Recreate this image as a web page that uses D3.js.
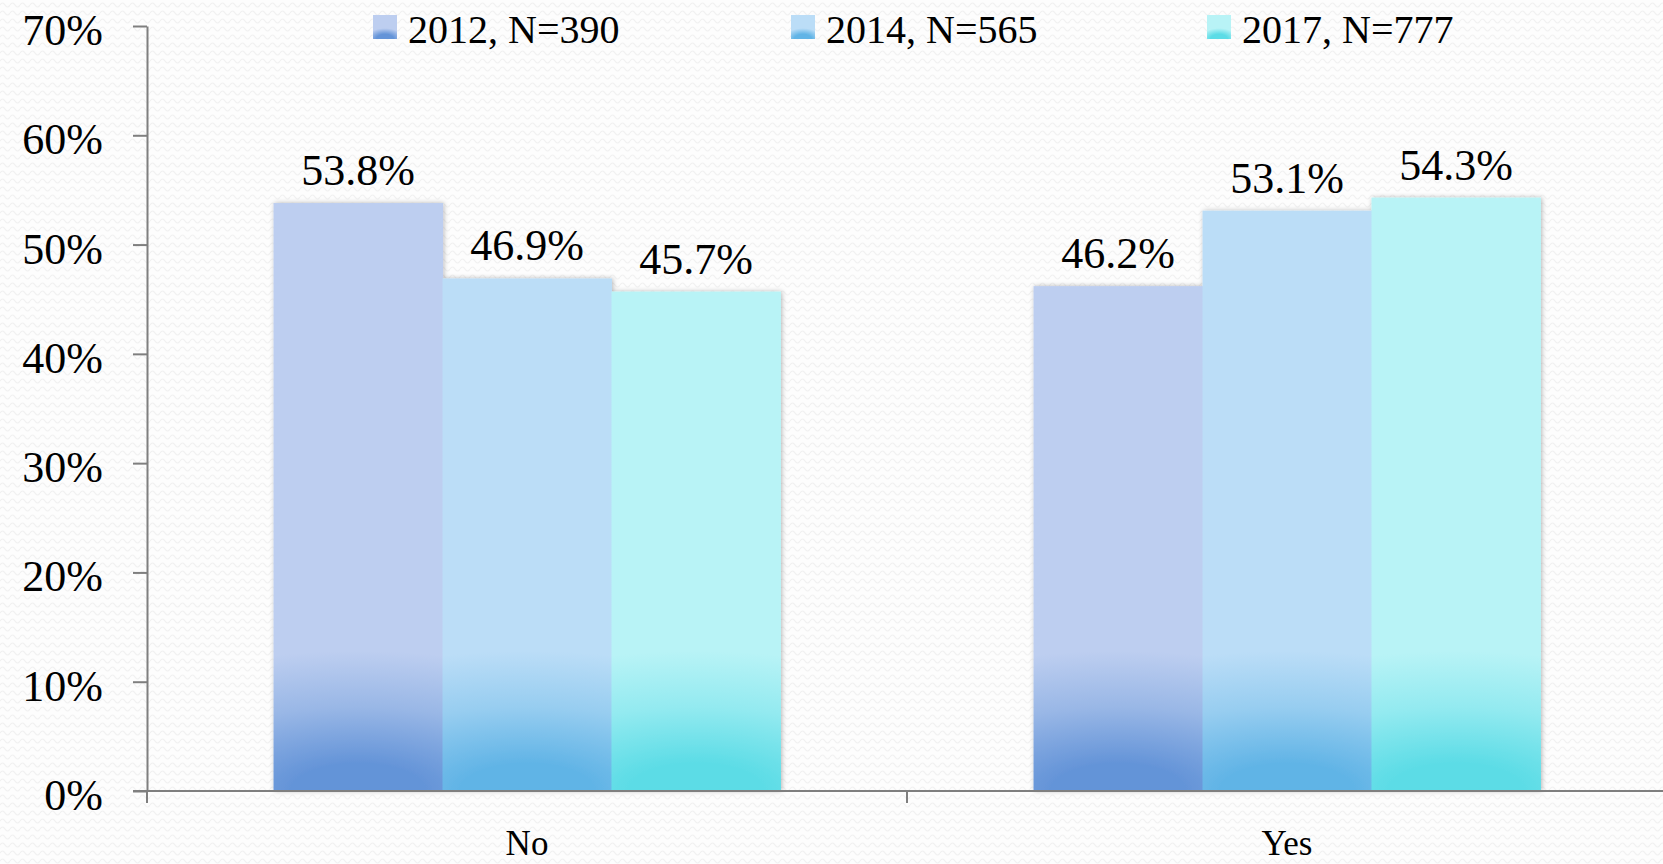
<!DOCTYPE html>
<html>
<head>
<meta charset="utf-8">
<script src="https://cdn.jsdelivr.net/npm/d3@7"></script>
<style>
  html, body { margin: 0; padding: 0; background: #fff; }
  svg { display: block; }
</style>
</head>
<body>
<div id="chart"></div>
<script>
// data
const categories = ['No', 'Yes'];
const seriesNames = ['2012, N=390', '2014, N=565', '2017, N=777'];
const values2012 = [53.8, 46.2];
const values2014 = [46.9, 53.1];
const values2017 = [45.7, 54.3];
const yTicks = [0, 10, 20, 30, 40, 50, 60, 70];

const seriesValues = [values2012, values2014, values2017];

// colours: flat top colour + darker glow at the bottom
const topColors = ['#bdcef0', '#bbddf7', '#b8f3f6'];
const bottomColors = ['#6494d8', '#61b4e6', '#5cdce6'];

const width = 1663;
const height = 864;
const font = '"Liberation Serif", "Times New Roman", serif';

const svg = d3.select('#chart').append('svg')
    .attr('width', width)
    .attr('height', height);

const defs = svg.append('defs');

// faint wavy background texture
const pat = defs.append('pattern')
    .attr('id', 'wave')
    .attr('width', 10)
    .attr('height', 8)
    .attr('patternUnits', 'userSpaceOnUse');
pat.append('rect').attr('width', 10).attr('height', 8).attr('fill', '#fdfdfd');
pat.append('path')
    .attr('d', 'M0 5 Q2.5 1 5 5 T10 5')
    .attr('fill', 'none')
    .attr('stroke', '#f1f1f1')
    .attr('stroke-width', 1.2);

svg.append('rect')
    .attr('width', width)
    .attr('height', height)
    .attr('fill', 'url(#wave)');

// soft shadow round the bar groups
const shadow = defs.append('filter')
    .attr('id', 'shadow')
    .attr('x', '-5%').attr('y', '-5%')
    .attr('width', '110%').attr('height', '110%');
shadow.append('feDropShadow')
    .attr('dx', 1).attr('dy', 0)
    .attr('stdDeviation', 2.5)
    .attr('flood-color', '#000')
    .attr('flood-opacity', 0.28);

// Scales
const x0 = d3.scaleBand()
    .domain(categories)
    .range([147, 1667])
    .padding(0);

const x1 = d3.scaleBand()
    .domain(seriesNames)
    .range([x0.bandwidth() * 0.1665, x0.bandwidth() * 0.8335])
    .padding(0);

const y = d3.scaleLinear()
    .domain([0, 70])
    .range([791, 26]);

// bar data
const bars = [];
categories.forEach((c, ci) => {
    seriesNames.forEach((s, si) => {
        bars.push({ cat: c, ci, series: s, si, value: seriesValues[si][ci] });
    });
});

// one radial gradient per bar, glow sits on the baseline
bars.forEach(d => {
    const h = y(0) - y(d.value);
    const g = defs.append('radialGradient')
        .attr('id', `grad-${d.si}-${d.ci}`)
        .attr('cx', 0.5).attr('cy', 1)
        .attr('fx', 0.5).attr('fy', 1)
        .attr('r', 0.5)
        .attr('gradientTransform', `translate(0.5,1) scale(4,${280 / h}) translate(-0.5,-1)`);
    g.append('stop').attr('offset', 0).attr('stop-color', bottomColors[d.si]);
    g.append('stop').attr('offset', 0.2).attr('stop-color', bottomColors[d.si]);
    g.append('stop').attr('offset', 0.6).attr('stop-color', d3.interpolateRgb(bottomColors[d.si], topColors[d.si])(0.6));
    g.append('stop').attr('offset', 1).attr('stop-color', topColors[d.si]);
});

const groups = svg.selectAll('g.cat')
    .data(categories)
    .join('g')
    .attr('class', 'cat')
    .attr('transform', d => `translate(${x0(d)},0)`)
    .attr('filter', 'url(#shadow)');

groups.selectAll('rect')
    .data(c => bars.filter(b => b.cat === c))
    .join('rect')
    .attr('x', d => x1(d.series))
    .attr('y', d => y(d.value))
    .attr('width', x1.bandwidth() + 0.5)
    .attr('height', d => y(0) - y(d.value))
    .attr('fill', d => `url(#grad-${d.si}-${d.ci})`);

// value labels
svg.append('g')
    .selectAll('text')
    .data(bars)
    .join('text')
    .attr('x', d => x0(d.cat) + x1(d.series) + x1.bandwidth() / 2)
    .attr('y', d => y(d.value) - 18)
    .attr('text-anchor', 'middle')
    .attr('font-family', font)
    .attr('font-size', 44)
    .attr('fill', '#000')
    .text(d => d.value.toFixed(1) + '%');

// Y axis
const yAxis = svg.append('g')
    .attr('transform', 'translate(147,0)')
    .call(d3.axisLeft(y)
        .tickValues(yTicks)
        .tickFormat(d => d + '%')
        .tickSize(14)
        .tickSizeOuter(0)
        .tickPadding(30));

yAxis.select('.domain').attr('stroke', '#7f7f7f').attr('stroke-width', 2);
yAxis.selectAll('.tick line').attr('stroke', '#7f7f7f').attr('stroke-width', 2);
yAxis.selectAll('.tick text')
    .attr('font-family', font)
    .attr('font-size', 44)
    .attr('fill', '#000')
    .attr('dy', '0.42em');

// X axis: line, boundary ticks, category names
const xAxis = svg.append('g');
xAxis.append('line')
    .attr('x1', x0.range()[0] - 14)
    .attr('x2', width)
    .attr('y1', y(0))
    .attr('y2', y(0))
    .attr('stroke', '#7f7f7f')
    .attr('stroke-width', 2);

xAxis.selectAll('line.tick')
    .data(categories)
    .join('line')
    .attr('class', 'tick')
    .attr('x1', d => x0(d))
    .attr('x2', d => x0(d))
    .attr('y1', y(0))
    .attr('y2', y(0) + 12)
    .attr('stroke', '#7f7f7f')
    .attr('stroke-width', 2);

xAxis.selectAll('text')
    .data(categories)
    .join('text')
    .attr('x', d => x0(d) + x0.bandwidth() / 2)
    .attr('y', 855)
    .attr('text-anchor', 'middle')
    .attr('font-family', font)
    .attr('font-size', 35)
    .attr('fill', '#000')
    .text(d => d);

// Legend
const legendX = [373, 791, 1207];

seriesNames.forEach((s, i) => {
    const lg = defs.append('radialGradient')
        .attr('id', `leg-${i}`)
        .attr('cx', 0.5).attr('cy', 1)
        .attr('fx', 0.5).attr('fy', 1)
        .attr('r', 0.5)
        .attr('gradientTransform', 'translate(0.5,1) scale(1.6,0.9) translate(-0.5,-1)');
    lg.append('stop').attr('offset', 0).attr('stop-color', bottomColors[i]);
    lg.append('stop').attr('offset', 0.45).attr('stop-color', bottomColors[i]);
    lg.append('stop').attr('offset', 1).attr('stop-color', topColors[i]);
});

const legend = svg.append('g')
    .selectAll('g')
    .data(seriesNames)
    .join('g')
    .attr('transform', (d, i) => `translate(${legendX[i]},15)`);

legend.append('rect')
    .attr('width', 24)
    .attr('height', 24)
    .attr('fill', (d, i) => `url(#leg-${i})`);

legend.append('text')
    .attr('x', 35)
    .attr('y', 28)
    .attr('font-family', font)
    .attr('font-size', 40)
    .attr('fill', '#000')
    .text(d => d);
</script>
</body>
</html>
